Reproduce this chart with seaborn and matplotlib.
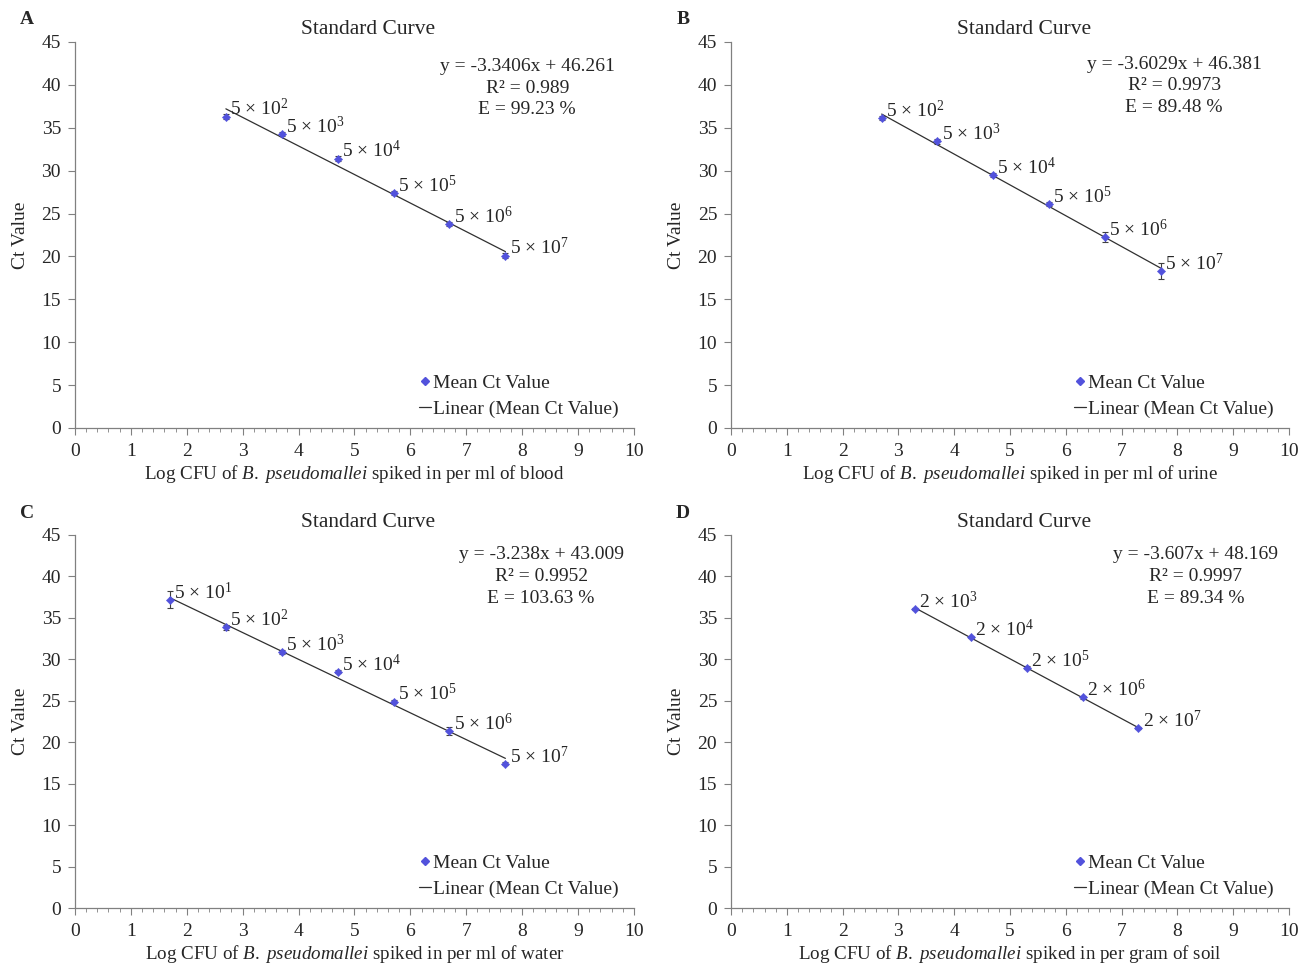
import numpy as np
import pandas as pd
import matplotlib
matplotlib.use("Agg")
import matplotlib.pyplot as plt
from matplotlib.lines import Line2D
import seaborn as sns

# panel A - blood
log_blood = [2.7, 3.7, 4.7, 5.7, 6.7, 7.7]
ct_blood = [36.3, 34.3, 31.4, 27.4, 23.8, 20.1]
sd_blood = [0.25, 0.25, 0.25, 0.25, 0.25, 0.25]
lab_blood = ["5 × 10$^{2}$", "5 × 10$^{3}$", "5 × 10$^{4}$", "5 × 10$^{5}$", "5 × 10$^{6}$", "5 × 10$^{7}$"]

# panel B - urine
log_urine = [2.7, 3.7, 4.7, 5.7, 6.7, 7.7]
ct_urine = [36.1, 33.4, 29.5, 26.1, 22.3, 18.3]
sd_urine = [0.25, 0.25, 0.2, 0.25, 0.6, 0.9]
lab_urine = ["5 × 10$^{2}$", "5 × 10$^{3}$", "5 × 10$^{4}$", "5 × 10$^{5}$", "5 × 10$^{6}$", "5 × 10$^{7}$"]

# panel C - water
log_water = [1.7, 2.7, 3.7, 4.7, 5.7, 6.7, 7.7]
ct_water = [37.2, 33.9, 30.9, 28.5, 24.9, 21.4, 17.4]
sd_water = [1.0, 0.3, 0.2, 0.2, 0.2, 0.5, 0.2]
lab_water = ["5 × 10$^{1}$", "5 × 10$^{2}$", "5 × 10$^{3}$", "5 × 10$^{4}$", "5 × 10$^{5}$", "5 × 10$^{6}$", "5 × 10$^{7}$"]

# panel D - soil
log_soil = [3.3, 4.3, 5.3, 6.3, 7.3]
ct_soil = [36.1, 32.7, 29.0, 25.4, 21.7]
sd_soil = [0.15, 0.15, 0.15, 0.15, 0.15]
lab_soil = ["2 × 10$^{3}$", "2 × 10$^{4}$", "2 × 10$^{5}$", "2 × 10$^{6}$", "2 × 10$^{7}$"]

panel_letters = ["A", "B", "C", "D"]
matrices = ["per ml of blood", "per ml of urine", "per ml of water", "per gram of soil"]
equations = [
    "y = -3.3406x + 46.261\nR² = 0.989\nE = 99.23 %",
    "y = -3.6029x + 46.381\nR² = 0.9973\nE = 89.48 %",
    "y = -3.238x + 43.009\nR² = 0.9952\nE = 103.63 %",
    "y = -3.607x + 48.169\nR² = 0.9997\nE = 89.34 %",
]

sns.set_style("ticks")
plt.rcParams["font.family"] = ["Liberation Serif", "DejaVu Serif"]
plt.rcParams["mathtext.fontset"] = "custom"
plt.rcParams["mathtext.rm"] = "Liberation Serif"
plt.rcParams["mathtext.it"] = "Liberation Serif:italic"

MARK = "#5252dc"
FS = 14

fig = plt.figure(figsize=(13.01, 9.65), dpi=100)
boxes = [
    [0.0576, 0.5565, 0.4297, 0.4000],
    [0.5619, 0.5565, 0.4289, 0.4000],
    [0.0576, 0.0590, 0.4297, 0.3866],
    [0.5619, 0.0590, 0.4289, 0.3866],
]
eq_pos = [(8.09, 39.6), (7.94, 39.9), (8.34, 40.0), (8.33, 40.0)]
letter_pos = [(27, 20), (683, 20), (27, 513), (683, 513)]

panels = [
    (log_blood, ct_blood, sd_blood, lab_blood),
    (log_urine, ct_urine, sd_urine, lab_urine),
    (log_water, ct_water, sd_water, lab_water),
    (log_soil, ct_soil, sd_soil, lab_soil),
]

for i, (xs, ys, sds, labs) in enumerate(panels):
    ax = fig.add_axes(boxes[i])
    df = pd.DataFrame({"x": xs, "y": ys})

    ax.errorbar(xs, ys, yerr=sds, fmt="none", ecolor="#404040", elinewidth=0.8,
                capsize=2, capthick=0.8, zorder=2)
    sns.regplot(data=df, x="x", y="y", ax=ax, scatter=False, ci=None, truncate=True,
                line_kws={"color": "#303030", "linewidth": 0.9, "zorder": 3})
    sns.scatterplot(data=df, x="x", y="y", ax=ax, marker="D", s=18, color=MARK,
                    edgecolor=MARK, linewidth=0.3, zorder=4)

    for x, y, lab in zip(xs, ys, labs):
        ax.annotate(lab, (x, y), xytext=(3, 5.5), textcoords="offset points",
                    ha="left", va="center", fontsize=FS)

    ax.text(eq_pos[i][0], eq_pos[i][1], equations[i], ha="center", va="center",
            fontsize=FS, linespacing=1.36)

    ax.set_xlim(0, 10)
    ax.set_ylim(0, 45)
    ax.set_xticks(range(0, 11))
    ax.set_xticks(np.arange(0, 10.01, 0.2), minor=True)
    ax.set_yticks(range(0, 46, 5))
    ax.tick_params(axis="both", which="major", labelsize=FS, length=5, width=0.8,
                   color="#808080", pad=5)
    ax.tick_params(axis="x", which="major", pad=6)
    ax.tick_params(axis="x", which="minor", length=3, width=0.6, color="#808080")
    for side in ["left", "bottom"]:
        ax.spines[side].set_color("#808080")
        ax.spines[side].set_linewidth(0.9)
    sns.despine(ax=ax)

    ax.set_ylabel("Ct Value", fontsize=FS, labelpad=9)
    ax.set_xlabel("Log CFU of $\\mathit{B.\\ pseudomallei}$ spiked in " + matrices[i],
                  fontsize=13.7, labelpad=2)
    ax.set_title("Standard Curve", fontsize=15.5, pad=6, x=0.525)

    handles = [
        Line2D([], [], marker="D", linestyle="none", color=MARK, markersize=4),
        Line2D([], [], color="#303030", linewidth=0.9),
    ]
    ax.legend(handles, ["Mean Ct Value", "Linear (Mean Ct Value)"], loc="lower right",
              bbox_to_anchor=(0.99, 0.0), frameon=False, fontsize=FS, handlelength=0.6,
              handletextpad=0.1, labelspacing=0.45, borderaxespad=0.1)

    fig.text(letter_pos[i][0] / 1301, 1 - letter_pos[i][1] / 965, panel_letters[i],
             fontsize=FS, fontweight="bold", ha="center", va="center")

fig.savefig("out.png", dpi=100)
